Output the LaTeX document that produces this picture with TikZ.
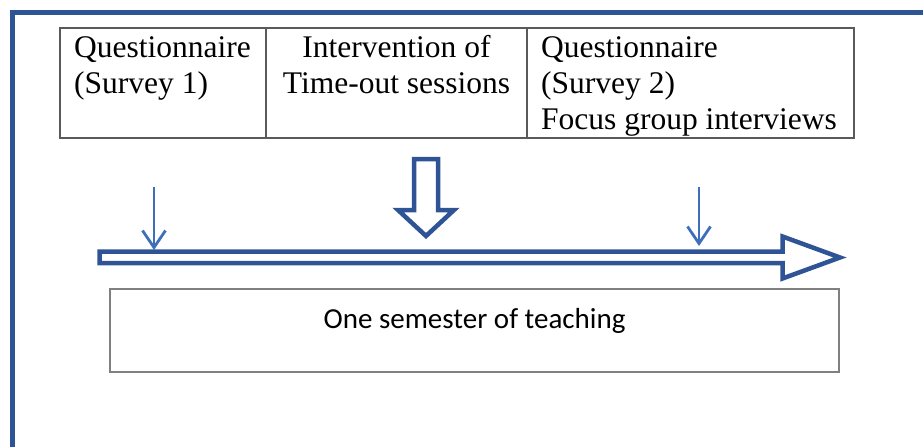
\documentclass[tikz,border=0pt]{standalone}
\usepackage{fontspec}
\setmainfont{Liberation Serif}
\newfontfamily\tabfont{Liberation Serif}
\newfontfamily\boxfont{Carlito}
\usetikzlibrary{arrows.meta}
\definecolor{frameblue}{HTML}{2F5496}
\definecolor{thinblue}{HTML}{3F6FB8}
\definecolor{tabgray}{HTML}{5A5A5A}
\definecolor{boxgray}{HTML}{808080}
\begin{document}
\begin{tikzpicture}[x=1pt,y=-1pt,
  tabtext/.style={inner sep=0pt,font=\tabfont\fontsize{31.5}{36}\selectfont},
  boxtext/.style={inner sep=0pt,font=\boxfont\fontsize{29}{34}\selectfont},
  frameline/.style={draw=frameblue,line width=5pt},
  hollow/.style={draw=frameblue,line width=4.5pt,fill=white,line join=miter},
  thinarrow/.style={draw=thinblue,line width=2.8pt,-{Straight Barb[length=17pt,width=23pt]}},
  tabline/.style={draw=tabgray,line width=2pt},
  boxline/.style={draw=boxgray,line width=2.5pt}]
\useasboundingbox (0,0) rectangle (923,447);
% outer frame
\draw[frameline] (12.5,447) -- (12.5,12.5) -- (923,12.5);
% table
\draw[tabline] (60,28) rectangle (854,138);
\draw[tabline] (266,28) -- (266,138);
\draw[tabline] (527,28) -- (527,138);
\node[tabtext,anchor=base west] (q1a) at (74,57) {Questionnaire};
\node[tabtext,anchor=base west] (q1b) at (74,93) {(Survey 1)};
\node[tabtext,anchor=base] (ia) at (396.5,57) {Intervention of};
\node[tabtext,anchor=base] (ib) at (396.5,93) {Time-out sessions};
\node[tabtext,anchor=base west] (q2a) at (541,57) {Questionnaire};
\node[tabtext,anchor=base west] (q2b) at (541,93) {(Survey 2)};
\node[tabtext,anchor=base west] (q2c) at (541,129) {Focus group interviews};
% big hollow down arrow
\draw[hollow] (414,159) -- (438,159) -- (438,210) -- (454,210) -- (426,236) -- (398,210) -- (414,210) -- cycle;
% timeline arrow
\draw[hollow] (99.5,251.5) -- (782.5,251.5) -- (782.5,236.5) -- (840,257.5) -- (782.5,278.5) -- (782.5,263) -- (99.5,263) -- cycle;
% thin arrows
\coordinate (s1) at (154,187);
\coordinate (e1) at (154,250);
\coordinate (s2) at (699,187);
\coordinate (e2) at (699,246);
\draw[thinarrow] (s1) -- (e1);
\draw[thinarrow] (s2) -- (e2);
% bottom box
\draw[boxline] (110,289) rectangle (839,372);
\node[boxtext,anchor=base] (sem) at (474.5,328) {One semester of teaching};
\end{tikzpicture}
\end{document}
